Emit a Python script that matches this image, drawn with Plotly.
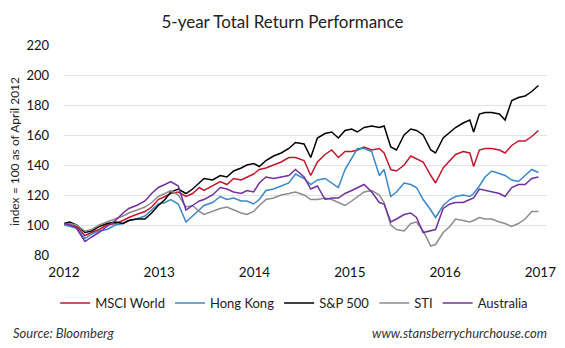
import plotly.graph_objects as go

# x positions in years (axis labels 2012..2017 evenly spaced)
years = [2012.00, 2012.06, 2012.13, 2012.22, 2012.29, 2012.37, 2012.45, 2012.54, 2012.62, 2012.68,
         2012.76, 2012.85, 2012.92, 2012.99, 2013.06, 2013.12, 2013.20, 2013.28, 2013.35, 2013.42,
         2013.47, 2013.56, 2013.64, 2013.71, 2013.78, 2013.86, 2013.92, 2013.99, 2014.05, 2014.12,
         2014.20, 2014.28, 2014.36, 2014.43, 2014.52, 2014.59, 2014.66, 2014.74, 2014.81, 2014.88,
         2014.95, 2015.02, 2015.08, 2015.15, 2015.23, 2015.31, 2015.36, 2015.43, 2015.49, 2015.57,
         2015.64, 2015.70, 2015.77, 2015.85, 2015.90, 2015.98, 2016.05, 2016.11, 2016.19, 2016.26,
         2016.30, 2016.36, 2016.42, 2016.49, 2016.57, 2016.63, 2016.70, 2016.77, 2016.84, 2016.91,
         2016.98]

sp500 = [101, 102, 100, 95, 96, 99, 101, 102, 101, 103,
         104, 104, 108, 113, 117, 122, 124, 121, 124, 128,
         131, 130, 133, 132, 136, 138, 140, 141, 139, 143,
         146, 148, 151, 155, 154, 145, 158, 161, 162, 158,
         163, 164, 162, 165, 166, 165, 166, 152, 150, 160,
         164, 163, 160, 150, 148, 158, 162, 165, 168, 170,
         162, 174, 175, 175, 174, 170, 183, 185, 186, 189,
         193]

msci_world = [100, 101, 99, 93, 95, 97, 100, 101, 103, 105,
              107, 109, 112, 117, 119, 121, 122, 119, 121, 125,
              123, 126, 129, 127, 131, 130, 132, 134, 137, 138,
              140, 142, 145, 145, 143, 133, 142, 147, 150, 145,
              149, 149, 150, 152, 150, 151, 148, 137, 136, 140,
              146, 144, 142, 133, 128, 138, 143, 147, 149, 148,
              139, 150, 151, 151, 150, 148, 153, 156, 156, 159,
              163]

hong_kong = [100, 99, 98, 91, 94, 96, 97, 100, 101, 103,
             104, 106, 110, 114, 115, 117, 114, 102, 106, 110,
             113, 115, 119, 117, 118, 116, 116, 114, 117, 123,
             124, 126, 128, 134, 131, 127, 130, 131, 128, 125,
             137, 145, 151, 151, 149, 133, 137, 119, 122, 128,
             127, 125, 117, 110, 105, 113, 117, 119, 120, 119,
             121, 126, 132, 136, 134, 133, 130, 129, 133, 137,
             135]

sti = [100, 101, 100, 96, 97, 100, 102, 104, 106, 108,
       110, 112, 115, 119, 121, 123, 120, 112, 113, 109,
       107, 109, 111, 112, 110, 108, 107, 109, 113, 117,
       118, 120, 121, 122, 120, 117, 117, 118, 117, 115,
       113, 116, 119, 122, 123, 120, 115, 100, 97, 96,
       101, 102, 96, 86, 87, 95, 99, 104, 103, 102,
       103, 105, 104, 104, 102, 101, 99, 101, 104, 109,
       109]

australia = [101, 100, 98, 89, 92, 95, 99, 103, 108, 111,
             113, 116, 121, 125, 127, 129, 126, 110, 113, 116,
             117, 120, 125, 124, 122, 121, 123, 122, 128, 132,
             131, 132, 133, 137, 132, 124, 126, 117, 118, 118,
             121, 123, 125, 127, 122, 115, 114, 102, 104, 107,
             108, 105, 95, 96, 97, 111, 114, 115, 115, 117,
             118, 124, 123, 122, 121, 119, 125, 127, 127, 131,
             132]

tick_years = [2012, 2013, 2014, 2015, 2016, 2017]
tick_labels = ["2012", "2013", "2014", "2015", "2016", "2017"]
y_ticks = [80, 100, 120, 140, 160, 180, 200, 220]

series = [
    ("MSCI World", msci_world, "#C0172D"),
    ("Hong Kong", hong_kong, "#3A88C9"),
    ("S&P 500", sp500, "#000000"),
    ("STI", sti, "#8C8C8C"),
    ("Australia", australia, "#7030A0"),
]

FONT = "Lato, 'Open Sans', sans-serif"

fig = go.Figure()
for name, vals, color in series:
    fig.add_trace(go.Scatter(x=years, y=vals, mode="lines", name=name,
                             line=dict(color=color, width=1.5)))

fig.update_layout(
    width=565, height=348,
    margin=dict(l=64, r=9, t=45, b=93),
    paper_bgcolor="white", plot_bgcolor="white",
    font=dict(family=FONT, size=13, color="#222222"),
    title=dict(text="5-year Total Return Performance", x=0.5, xref="container",
               y=1 - 22 / 348, yref="container", xanchor="center", yanchor="middle",
               font=dict(family=FONT, size=17, color="#222222")),
    showlegend=True,
    legend=dict(orientation="h", x=(55 - 64) / 492, xanchor="left",
                y=-(303 - 255) / 210, yanchor="middle",
                font=dict(family=FONT, size=13, color="#222222"),
                bgcolor="rgba(0,0,0,0)"),
    xaxis=dict(range=[2012, 2017.07], tickmode="array", tickvals=tick_years,
               ticktext=tick_labels, showgrid=False, zeroline=False, showline=False,
               ticks="outside", ticklen=5, tickcolor="rgba(0,0,0,0)",
               ticklabeloverflow="allow",
               tickfont=dict(family=FONT, size=13.5, color="#111111")),
    yaxis=dict(range=[80, 220], tickmode="array", tickvals=y_ticks,
               showgrid=True, gridcolor="#E3E3E3", gridwidth=1, zeroline=False,
               showline=False, ticklabelstandoff=14,
               tickfont=dict(family=FONT, size=13, color="#111111")),
    annotations=[
        dict(text="index = 100 as of April 2012", xref="paper", yref="paper",
             x=(13 - 64) / 492, y=(255 - 151) / 210, textangle=-90,
             xanchor="center", yanchor="middle", showarrow=False,
             font=dict(family=FONT, size=12, color="#222222")),
        dict(text="<i>Source: Bloomberg</i>", xref="paper", yref="paper",
             x=(10 - 64) / 492, y=-(333 - 255) / 210, xanchor="left", yanchor="middle",
             showarrow=False, font=dict(family=FONT, size=13, color="#333333")),
        dict(text="<i>www.stansberrychurchouse.com</i>", xref="paper", yref="paper",
             x=(558 - 64) / 492, y=-(333 - 255) / 210, xanchor="right", yanchor="middle",
             showarrow=False, font=dict(family=FONT, size=13, color="#333333")),
    ],
)

fig.write_html("out.html")
